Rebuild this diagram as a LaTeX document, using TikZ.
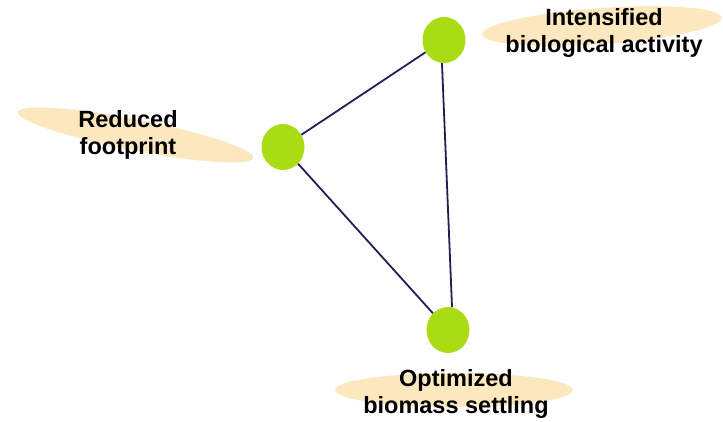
\documentclass[tikz,border=0pt]{standalone}
\usepackage{fontspec}
\setmainfont{Liberation Sans}
\usetikzlibrary{shapes.geometric}
\definecolor{Lime}{HTML}{AADC14}
\definecolor{Sand}{HTML}{FCE8BF}
\definecolor{Navy}{HTML}{1E2152}

\begin{document}
\begin{tikzpicture}[x=1pt,y=-1pt,
    goal/.style={ellipse,fill=Lime,minimum width=43pt,minimum height=46pt,inner sep=0},
    halo/.style={ellipse,fill=Sand,inner sep=0},
    lbl/.style={align=center,inner sep=0,font=\bfseries\fontsize{23.5}{27}\selectfont},
    link/.style={Navy,line width=1.8pt}]
  \useasboundingbox (0,0) rectangle (723,422);
  % shaded backdrops behind the labels
  \node[halo,minimum width=240pt,minimum height=31pt,rotate=-11] (hl) at (135.5,135) {};
  \node[halo,minimum width=240pt,minimum height=36pt,rotate=4] (ht) at (602,26) {};
  \node[halo,minimum width=238pt,minimum height=34pt] (hb) at (454,390) {};
  % the three corners
  \node[goal] (t) at (444,40) {};
  \node[goal] (l) at (283,147) {};
  \node[goal] (b) at (448,330) {};
  \draw[link] (l) -- (t);
  \draw[link] (l) -- (b);
  \draw[link] (t.-95) -- (b.80);
  % labels
  \node[lbl] (tl) at (604,33) {Intensified\\biological activity};
  \node[lbl] (ll) at (128,135) {Reduced\\footprint};
  \node[lbl] (bl) at (456,394) {Optimized\\biomass settling};
\end{tikzpicture}
\end{document}
